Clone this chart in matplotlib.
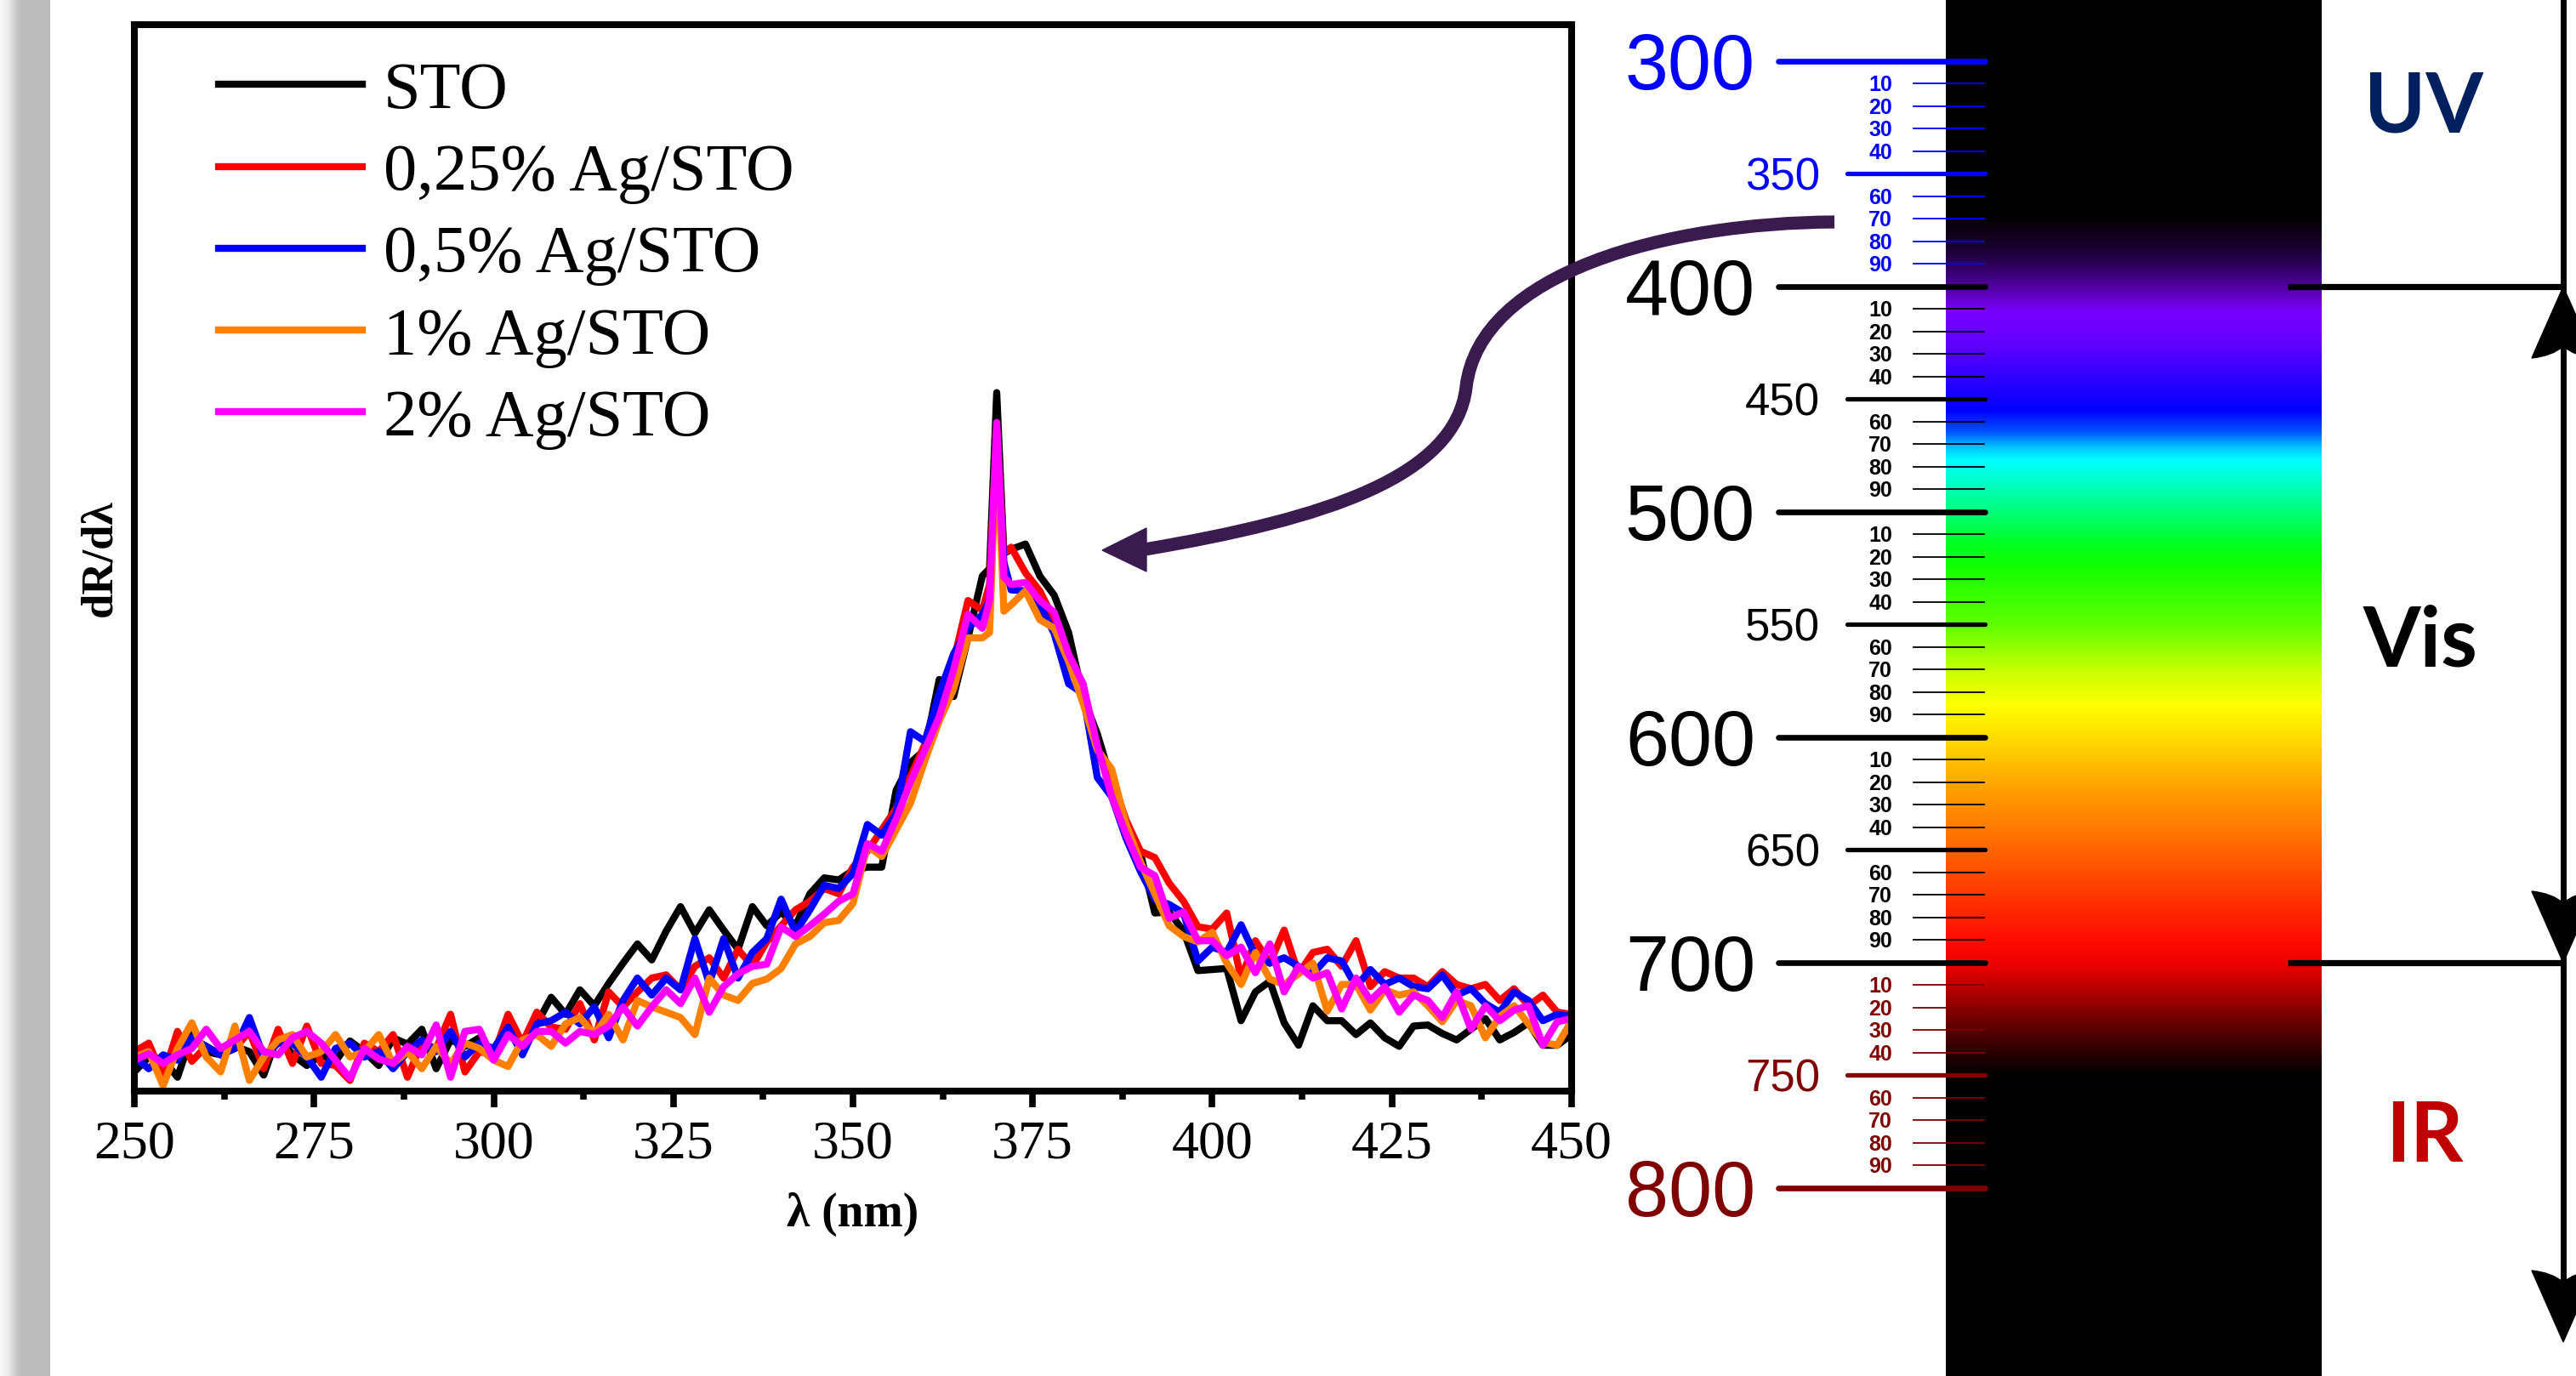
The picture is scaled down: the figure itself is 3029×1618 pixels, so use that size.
import numpy as np
import matplotlib.pyplot as plt
from matplotlib.path import Path
from matplotlib.patches import PathPatch, Polygon
from matplotlib.ticker import MultipleLocator

plt.rcParams['font.family'] = 'Liberation Serif'

W, H = 3029, 1618

# wavelength grid (nm): 2 nm steps, 1 nm steps through the narrow 370 nm line
wl = np.concatenate([np.arange(250, 369, 2), [369, 370, 371], np.arange(372, 451, 2)])

sto = [1.8, 3.2, 3.0, 1.3, 5.3, 3.7, 3.4, 4.2, 3.7, 1.5,
       5.3, 3.4, 2.4, 3.4, 2.8, 4.7, 3.7, 2.4, 5.0, 4.4,
       5.8, 2.1, 4.8, 4.2, 5.0, 3.5, 5.8, 3.7, 6.3, 8.8,
       7.2, 9.5, 8.0, 10.1, 12.0, 13.8, 12.3, 15.0, 17.3, 14.8,
       17.0, 15.1, 13.3, 17.3, 15.5, 16.8, 15.5, 18.5, 20.0, 19.8,
       20.7, 21.0, 21.0, 28.2, 30.8, 32.0, 38.6, 37.0, 42.5, 48.3,
       49.0, 65.5, 50.4,
       50.8, 51.3, 48.3, 46.5, 43.0, 37.0, 33.5, 29.0, 24.5, 22.3,
       16.7, 16.8, 15.0, 11.3, 11.4, 11.5, 6.6, 9.3, 10.3, 6.4,
       4.3, 8.0, 6.6, 6.6, 5.3, 6.4, 5.0, 4.2, 6.1, 6.2,
       5.4, 4.8, 5.8, 6.8, 4.8, 5.5, 6.4, 4.3, 4.3, 5.3]

ag025 = [3.7, 4.5, 1.3, 5.6, 2.8, 4.2, 3.4, 4.0, 5.6, 2.1,
         5.8, 2.6, 6.1, 2.6, 2.4, 1.0, 4.5, 3.7, 5.3, 1.3,
         4.5, 4.0, 7.2, 1.8, 3.7, 3.4, 7.2, 4.5, 7.4, 6.0,
         5.8, 8.2, 4.8, 9.3, 7.9, 9.3, 10.6, 10.9, 9.5, 11.7,
         12.5, 10.6, 13.3, 11.7, 14.0, 15.5, 17.0, 17.8, 19.0, 18.5,
         21.0, 22.5, 24.5, 26.5, 29.5, 32.5, 37.0, 40.3, 46.0, 45.1,
         47.5, 62.0, 50.4,
         51.0, 48.6, 46.9, 44.2, 40.5, 38.2, 31.6, 29.4, 25.4, 22.5,
         21.9, 19.5, 17.8, 15.4, 15.2, 16.7, 10.6, 14.1, 12.0, 15.1,
         11.0, 13.0, 13.3, 11.7, 14.1, 9.8, 11.2, 10.6, 10.6, 9.8,
         11.2, 10.0, 9.6, 10.0, 8.5, 9.6, 8.0, 9.0, 7.4, 7.2]

ag05 = [3.2, 2.1, 3.4, 2.9, 5.0, 4.2, 3.4, 4.0, 6.9, 3.2,
        4.5, 4.5, 3.2, 1.3, 4.0, 4.5, 3.2, 3.7, 2.1, 3.7,
        4.8, 3.7, 5.6, 3.2, 4.5, 4.0, 6.0, 3.4, 6.3, 6.6,
        7.4, 6.3, 7.9, 5.0, 8.5, 10.6, 9.0, 10.6, 9.5, 14.3,
        10.1, 14.3, 10.6, 13.0, 14.3, 18.0, 14.9, 17.0, 19.3, 19.0,
        20.4, 25.0, 24.0, 26.0, 33.7, 32.8, 37.3, 41.0, 43.4, 44.7,
        46.0, 61.5, 49.6,
        47.0, 46.9, 45.6, 42.9, 38.2, 37.3, 29.4, 27.6, 23.7, 20.6,
        18.0, 17.5, 16.7, 12.2, 13.5, 13.0, 15.6, 12.7, 12.0, 12.5,
        11.7, 11.0, 12.5, 12.2, 9.8, 11.4, 10.0, 10.6, 9.8, 9.6,
        10.9, 9.0, 9.6, 8.2, 7.4, 9.3, 8.5, 6.6, 7.2, 7.0]

ag1 = [3.2, 3.7, 0.5, 4.0, 6.4, 3.2, 1.8, 6.1, 1.0, 3.2,
       4.8, 5.3, 3.2, 3.7, 5.3, 3.2, 3.7, 5.3, 2.6, 3.7,
       2.1, 4.2, 2.6, 4.5, 4.0, 2.9, 2.3, 4.8, 5.3, 4.2,
       6.3, 6.9, 5.3, 7.2, 4.8, 8.5, 7.9, 7.4, 6.9, 5.3,
       10.6, 9.0, 8.5, 10.1, 10.5, 11.5, 13.8, 14.5, 15.8, 16.0,
       17.6, 23.0, 22.0, 24.5, 27.0, 31.0, 34.7, 37.7, 42.5, 42.5,
       43.0, 61.0, 45.0,
       45.6, 46.9, 44.2, 43.4, 40.3, 36.4, 32.0, 30.2, 25.0, 21.5,
       18.5, 15.5, 14.5, 14.0, 14.9, 12.0, 10.0, 13.0, 10.5, 10.0,
       11.0, 12.0, 7.5, 10.0, 10.0, 7.6, 9.5, 9.0, 9.3, 8.0,
       6.5, 8.5, 8.0, 5.0, 7.0, 8.0, 6.3, 4.6, 4.3, 6.6]

ag2 = [2.9, 3.5, 2.6, 3.4, 4.0, 5.8, 4.0, 4.8, 5.6, 3.7,
       3.4, 5.0, 5.6, 4.5, 2.9, 1.2, 4.0, 3.0, 2.6, 4.2,
       3.4, 6.2, 1.3, 5.6, 5.8, 2.9, 5.3, 4.2, 5.6, 5.6,
       4.5, 5.6, 5.3, 6.1, 7.9, 6.1, 7.9, 9.5, 8.2, 10.6,
       7.4, 9.8, 11.0, 11.7, 11.9, 15.4, 14.5, 15.5, 16.6, 17.8,
       18.5, 23.2, 22.5, 25.5, 29.0, 32.0, 35.1, 39.5, 44.7, 43.4,
       46.0, 62.7, 48.2,
       47.5, 47.7, 46.0, 44.9, 41.0, 38.2, 32.4, 27.6, 24.1, 21.0,
       20.2, 16.2, 16.8, 14.1, 14.1, 12.7, 13.5, 11.1, 13.8, 9.3,
       11.7, 10.6, 11.1, 7.7, 10.6, 8.5, 9.8, 7.4, 9.0, 8.5,
       6.9, 9.3, 5.8, 8.0, 6.6, 7.6, 8.0, 4.3, 6.5, 6.8]

series = [sto, ag025, ag05, ag1, ag2]
labels = ['STO', '0,25% Ag/STO', '0,5% Ag/STO', '1% Ag/STO', '2% Ag/STO']
colors = ['black', '#ff0000', '#0000ff', '#ff8000', '#ff00ff']

# wavelength ruler next to the spectrum strip
major_nm = [300, 400, 500, 600, 700, 800]
half_nm = [350, 450, 550, 650, 750]
minor_nm = [n for n in range(310, 800, 10) if n % 50]

# colour stops of the visible-spectrum strip
spec_nm = [260, 368, 378, 389, 400, 411, 426, 440, 455, 464, 471, 477, 488, 499,
           514, 524, 550, 572, 586, 605, 623, 645, 666, 688, 700, 710, 725, 739, 750, 900]
spec_hex = ['#000000', '#000000', '#12001f', '#2a0050', '#5000a0', '#7a00ff', '#6000ff',
            '#3000ff', '#0000ff', '#0050ff', '#00c0ff', '#00ffff', '#00ffc0', '#00ff80',
            '#00ff20', '#10ff00', '#60ff00', '#d0ff00', '#ffff00', '#ffd000', '#ffa000',
            '#ff7000', '#ff4000', '#ff1000', '#f00000', '#c00000', '#700000', '#300000',
            '#000000', '#000000']

PX_PER_NM = 2.65
NM_TOP = 300 - 72 / PX_PER_NM
NM_BOT = NM_TOP + H / PX_PER_NM


def ruler_color(n):
    if n < 400:
        return '#0000ff'
    if n > 700:
        return '#800000'
    return 'black'


fig = plt.figure(figsize=(W / 100, H / 100), dpi=100)

# ---- derivative spectra ----
ax = fig.add_axes([158 / W, 1 - 1283 / H, (1848 - 158) / W, (1283 - 29) / H])
for y, lab, c in zip(series, labels, colors):
    ax.plot(wl, y, color=c, lw=6, label=lab, solid_joinstyle='round')
ax.set_xlim(250, 450)
ax.set_ylim(0, 100)
ax.xaxis.set_major_locator(MultipleLocator(25))
ax.xaxis.set_minor_locator(MultipleLocator(12.5))
ax.set_yticks([])
ax.tick_params(axis='x', which='major', length=14, width=5.5, labelsize=46, pad=11)
ax.tick_params(axis='x', which='minor', length=7, width=5.5)
for s in ax.spines.values():
    s.set_linewidth(5.8)
ax.set_xlabel('λ (nm)', fontsize=40, fontweight='bold', labelpad=19)
ax.set_ylabel('dR/dλ', fontsize=38, fontweight='bold', labelpad=12)
ax.legend(loc='upper left', bbox_to_anchor=((257 - 158) / 1690, (1283 - 72) / 1254),
          frameon=False, fontsize=56.5, handlelength=2.15, handletextpad=0.32,
          labelspacing=0.31, borderpad=0, borderaxespad=0)

# ---- spectrum strip with wavelength ruler (x in pixels, y in nm) ----
rax = fig.add_axes([0, 0, 1, 1])
rax.axis('off')
spec_rgb = np.array([[int(h[i:i + 2], 16) / 255 for i in (1, 3, 5)] for h in spec_hex])
lam = np.linspace(NM_TOP, NM_BOT, 1600)
strip = np.stack([np.interp(lam, spec_nm, spec_rgb[:, k]) for k in range(3)], axis=-1)
rax.imshow(strip[:, None, :], extent=(2288, 2730, NM_BOT, NM_TOP), aspect='auto',
           interpolation='bilinear', origin='upper')

sans = 'Liberation Sans'
for n in major_nm:
    c = ruler_color(n)
    rax.plot([2091, 2334], [n, n], color=c, lw=4.8, solid_capstyle='round')
    rax.text(2064, n + 0.358 * 66 * 100 / 72 / PX_PER_NM, str(n), color=c, fontsize=66,
             family=sans, ha='right', va='baseline')
for n in half_nm:
    c = ruler_color(n)
    rax.plot([2172, 2334], [n, n], color=c, lw=3.8, solid_capstyle='round')
    rax.text(2140, n + 0.358 * 38 * 100 / 72 / PX_PER_NM, str(n), color=c, fontsize=38,
             family=sans, ha='right', va='baseline')
for n in minor_nm:
    c = ruler_color(n)
    rax.plot([2250, 2333], [n, n], color=c, lw=1.3)
    rax.text(2211, n + 0.358 * 18 * 100 / 72 / PX_PER_NM, str(n % 100), color=c,
             fontsize=18, fontweight='bold', family=['Liberation Sans Narrow', sans],
             ha='center', va='baseline')

# UV / Vis / IR range markers
XV = 3014
rax.hlines([400, 700], 2690, XV, color='black', lw=5.2)
tail_nm = 300 + (1578 - 72) / PX_PER_NM
rax.plot([XV, XV], [NM_TOP, tail_nm - 5], color='black', lw=5)


def range_head(tip, sign):
    # sign=+1 points toward longer wavelength (down), -1 toward shorter (up)
    L, notch, hw = 84 / PX_PER_NM, 70 / PX_PER_NM, 37
    back = tip - sign * L
    mid = tip - sign * notch
    ctrl = tip - sign * 0.97 * L
    verts = [(XV, tip), (XV - hw, back), (XV - 0.35 * hw, ctrl), (XV, mid),
             (XV + 0.35 * hw, ctrl), (XV + hw, back), (XV, tip)]
    codes = [Path.MOVETO, Path.LINETO, Path.CURVE3, Path.CURVE3,
             Path.CURVE3, Path.CURVE3, Path.CLOSEPOLY]
    rax.add_patch(PathPatch(Path(verts, codes), facecolor='black', edgecolor='black', lw=1))


range_head(400, -1)
range_head(700, 1)
range_head(tail_nm, 1)
rax.set_xlim(0, W)
rax.set_ylim(NM_BOT, NM_TOP)

# ---- page decorations in pixel coordinates ----
pax = fig.add_axes([0, 0, 1, 1])
pax.axis('off')
shade = np.interp(np.arange(59), [0, 8, 18, 25, 58], [0.98, 0.93, 0.80, 0.74, 0.74])
pax.imshow(np.repeat(shade[None, :, None], 3, axis=2), extent=(0, 59, H, 0),
           aspect='auto', interpolation='bilinear')

ARROW_C = '#3b1a4f'
curve = Path([(2157, 261), (1960, 262), (1740, 320), (1724, 455),
              (1712, 560), (1560, 610), (1346, 646)],
             [Path.MOVETO, Path.CURVE4, Path.CURVE4, Path.CURVE4,
              Path.CURVE4, Path.CURVE4, Path.CURVE4])
pax.add_patch(PathPatch(curve, fill=False, edgecolor=ARROW_C, lw=11, capstyle='butt'))
pax.add_patch(Polygon([(1296, 647), (1348, 621), (1348, 672)], closed=True,
                      facecolor=ARROW_C, edgecolor=ARROW_C, lw=1))

pax.text(2850, 155, 'UV', color='#002060', fontsize=70, fontweight='bold',
         family='Lato', ha='center', va='baseline')
pax.text(2846, 783, 'Vis', color='black', fontsize=70, fontweight='bold',
         family='Lato', ha='center', va='baseline')
pax.text(2851, 1366, 'IR', color='#c00000', fontsize=70, fontweight='bold',
         family='Lato', ha='center', va='baseline')
pax.set_xlim(0, W)
pax.set_ylim(H, 0)

fig.savefig('out.png', dpi=100, facecolor='white')
